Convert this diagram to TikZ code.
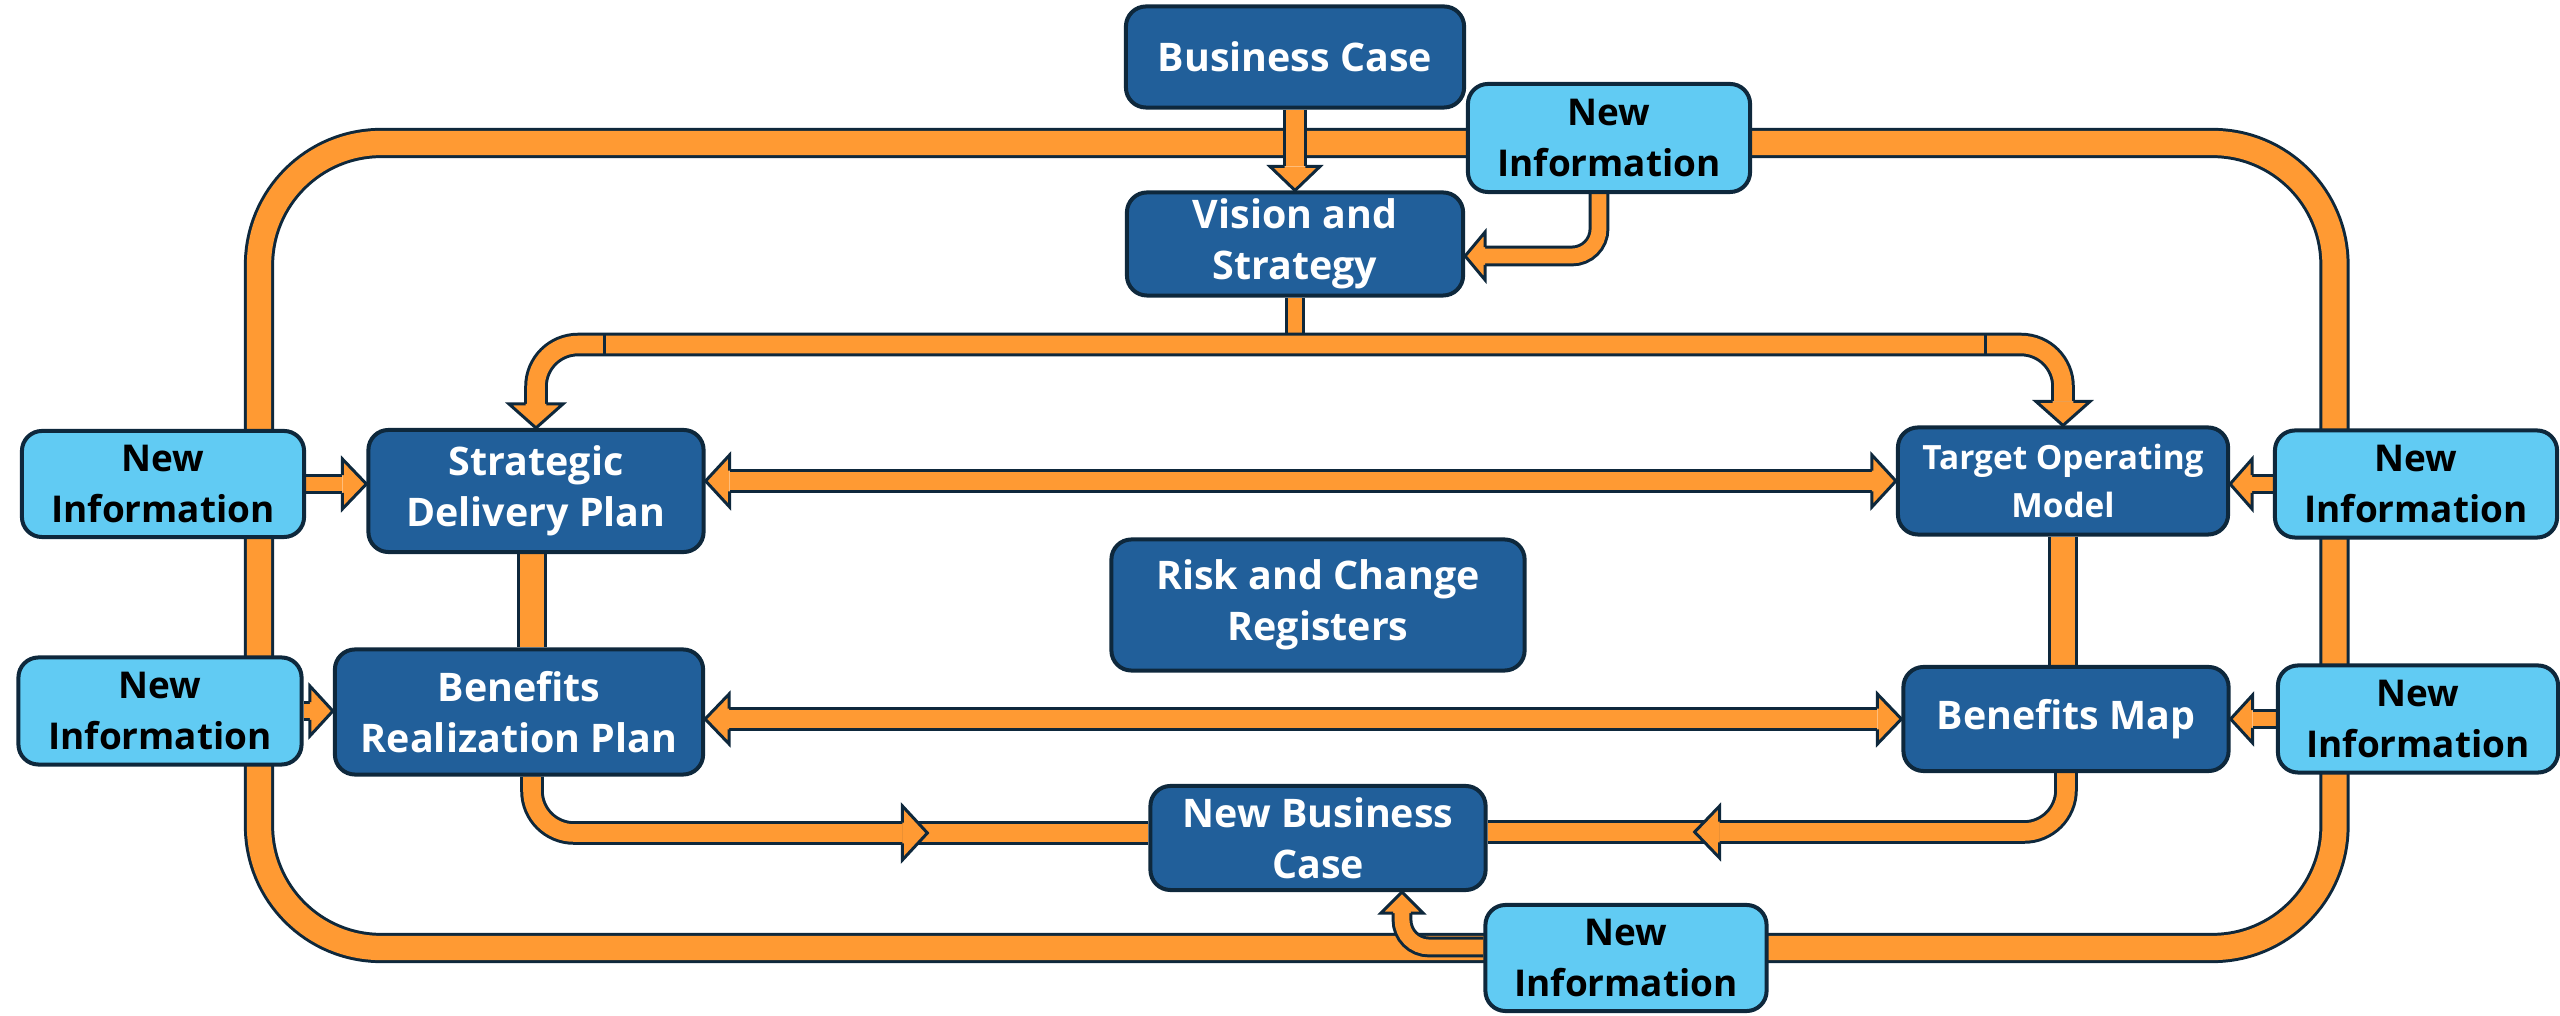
\documentclass[tikz,border=0pt]{standalone}
\usepackage{fontspec}
\newfontfamily\osans{Open Sans}
\usetikzlibrary{calc}
\pgfdeclarelayer{bg}
\pgfdeclarelayer{fg}
\pgfsetlayers{bg,main,fg}
\definecolor{og}{RGB}{255,154,51}
\definecolor{dk}{RGB}{14,40,60}
\definecolor{dblue}{RGB}{33,95,154}
\definecolor{lblue}{RGB}{97,203,243}
\newcommand{\boxfnt}{\osans\bfseries\fontsize{11.2pt}{14.6pt}\selectfont}
\newcommand{\nifnt}{\osans\bfseries\fontsize{10.5pt}{14.6pt}\selectfont}
\newcommand{\smallfnt}{\osans\bfseries\fontsize{9.5pt}{13.4pt}\selectfont}
% arrowhead: tip, angle, half width, length, shaft half width
\newcommand{\ahead}[5]{%
  \begin{scope}[shift={#1}, rotate=#2]
    \fill[og] (-#4,-#3) -- (0,0) -- (-#4,#3) -- cycle;
    \draw[dk, line width=0.85pt, line join=miter] (-#4,#5) -- (-#4,#3) -- (0,0) -- (-#4,-#3) -- (-#4,-#5);
  \end{scope}}
\tikzset{
  band/.style={draw=dk, line width=0.85pt, double=og},
  bigband/.style={band, double distance=6.9pt},
  midband/.style={band, double distance=5pt},
  smallband/.style={band, double distance=4.2pt},
  seam/.style={dk, line width=0.85pt},
  dbox/.style={rounded corners=0.2cm, draw=dk, line width=1.14pt, fill=dblue, text=white, align=center, inner sep=0pt, font=\boxfnt},
  nibox/.style={dbox, fill=lblue, text=black, font=\nifnt},
}
\begin{document}
\begin{tikzpicture}[x=0.01cm, y=-0.01cm]
\useasboundingbox (0,0) rectangle (2560,1016);

% nodes
\node[dbox, minimum width=3.38cm, minimum height=1.01cm] (bc) at (1295,57) {Business Case};
\node[dbox, minimum width=3.36cm, minimum height=1.03cm] (vs) at (1295,244) {Vision and\\Strategy};
\node[nibox, minimum width=2.82cm, minimum height=1.08cm] (niT) at (1609,138) {New\\Information};
\node[dbox, minimum width=3.35cm, minimum height=1.22cm] (sdp) at (536,491) {Strategic\\Delivery Plan};
\node[dbox, minimum width=3.30cm, minimum height=1.07cm, font=\smallfnt] (tom) at (2063,481) {Target Operating\\Model};
\node[dbox, minimum width=4.13cm, minimum height=1.31cm] (rcr) at (1318,605) {Risk and Change\\Registers};
\node[dbox, minimum width=3.68cm, minimum height=1.25cm] (brp) at (519,712) {Benefits\\Realization Plan};
\node[dbox, minimum width=3.25cm, minimum height=1.04cm] (bm) at (2066,719) {Benefits Map};
\node[dbox, minimum width=3.35cm, minimum height=1.04cm] (nbc) at (1318,838) {New Business\\Case};
\node[nibox, minimum width=2.82cm, minimum height=1.06cm] (niL1) at (163,484) {New\\Information};
\node[nibox, minimum width=2.83cm, minimum height=1.07cm] (niL2) at (160,711) {New\\Information};
\node[nibox, minimum width=2.82cm, minimum height=1.07cm] (niR1) at (2416,484) {New\\Information};
\node[nibox, minimum width=2.80cm, minimum height=1.07cm] (niR2) at (2418,719) {New\\Information};
\node[nibox, minimum width=2.81cm, minimum height=1.06cm] (niB) at (1626,958) {New\\Information};

\begin{pgfonlayer}{bg}
  % outer loop
  \coordinate (loopA) at (259,143);
  \coordinate (loopB) at (2334.5,948);
  \draw[bigband, rounded corners=1.22cm] (loopA) rectangle (loopB);
  % business case -> vision
  \draw[midband] (bc.south) -- ($(vs.north)+(0,-24)$);
  % new info -> vision
  \draw[smallband, rounded corners=0.27cm] ($(niT.south)+(-10,0)$) |- ($(vs.east)+(20,12)$);
  % stub and inner top band
  \coordinate (topY) at ($(vs.south)+(0,47)$);
  \draw[smallband] (vs.south) -- (topY);
  \draw[midband, rounded corners=0.42cm] ($(sdp.north)+(0,-24)$) |- (topY) -| ($(tom.north)+(0,-24)$);
  % strategic <-> target
  \draw[midband] ($(sdp.east |- tom.east)+(24,0)$) -- ($(tom.west)+(-24,0)$);
  % benefits realization <-> benefits map
  \draw[midband] ($(brp.east |- bm.west)+(24,0)$) -- ($(bm.west)+(-24,0)$);
  % verticals
  \coordinate (v1) at ($(sdp.south)+(-4,0)$);
  \draw[bigband] (v1) -- (v1 |- brp.north);
  \draw[bigband] (tom.south) -- (tom.south |- bm.north);
  % new information side arrows
  \draw[smallband] (niL1.east) -- ($(niL1.east -| sdp.west)+(-24,0)$);
  \draw[smallband] (niL2.east) -- ($(niL2.east -| brp.west)+(-23,0)$);
  \draw[smallband] (niR1.west) -- ($(niR1.west -| tom.east)+(22,0)$);
  \draw[smallband] (niR2.west) -- ($(niR2.west -| bm.east)+(22,0)$);
  % bottom elbows
  \coordinate (b1) at ($(brp.south)+(13,0)$);
  \coordinate (lb) at ($(nbc.west)+(0,-5)$);
  \draw[midband] ($(lb)+(-246,0)$) -- (lb);
  \draw[midband, rounded corners=0.42cm] (b1) |- ($(lb)+(-246,0)$);
  \coordinate (rb) at ($(nbc.east)+(0,-6)$);
  \draw[midband] (rb) -- ($(rb)+(232,0)$);
  \draw[midband, rounded corners=0.42cm] (bm.south) |- ($(rb)+(232,0)$);
  % bottom new info -> new business case
  \coordinate (nb) at ($(nbc.south)+(84,0)$);
  \draw[smallband, rounded corners=0.27cm] ($(niB.west)+(0,-11)$) -| ($(nb)+(0,21)$);
\end{pgfonlayer}

% seams in the top band
\draw[seam] ($(sdp.north |- topY)+(68,-11)$) -- ++(0,22);
\draw[seam] ($(tom.north |- topY)+(-78,-11)$) -- ++(0,22);

\begin{pgfonlayer}{fg}
  \ahead{(vs.north)}{-90}{25}{24}{10.3}
  \ahead{($(vs.east)+(0,12)$)}{180}{24}{20}{8.9}
  \ahead{(sdp.north)}{-90}{27}{24}{10.3}
  \ahead{(tom.north)}{-90}{27}{24}{10.3}
  \ahead{(sdp.east |- tom.east)}{180}{26}{24}{10.3}
  \ahead{(tom.west)}{0}{26}{24}{10.3}
  \ahead{(brp.east |- bm.west)}{180}{25}{24}{10.3}
  \ahead{(bm.west)}{0}{25}{24}{10.3}
  \ahead{(niL1.east -| sdp.west)}{0}{25}{24}{8.9}
  \ahead{(niL2.east -| brp.west)}{0}{25}{23}{8.9}
  \ahead{(niR1.west -| tom.east)}{180}{25}{22}{8.9}
  \ahead{(niR2.west -| bm.east)}{180}{24}{22}{8.9}
  \ahead{($(lb)+(-221,0)$)}{0}{27}{25}{10.3}
  \ahead{($(rb)+(207,0)$)}{180}{26}{25}{10.3}
  \ahead{(nb)}{90}{21}{21}{8.9}
\end{pgfonlayer}
\end{tikzpicture}
\end{document}
